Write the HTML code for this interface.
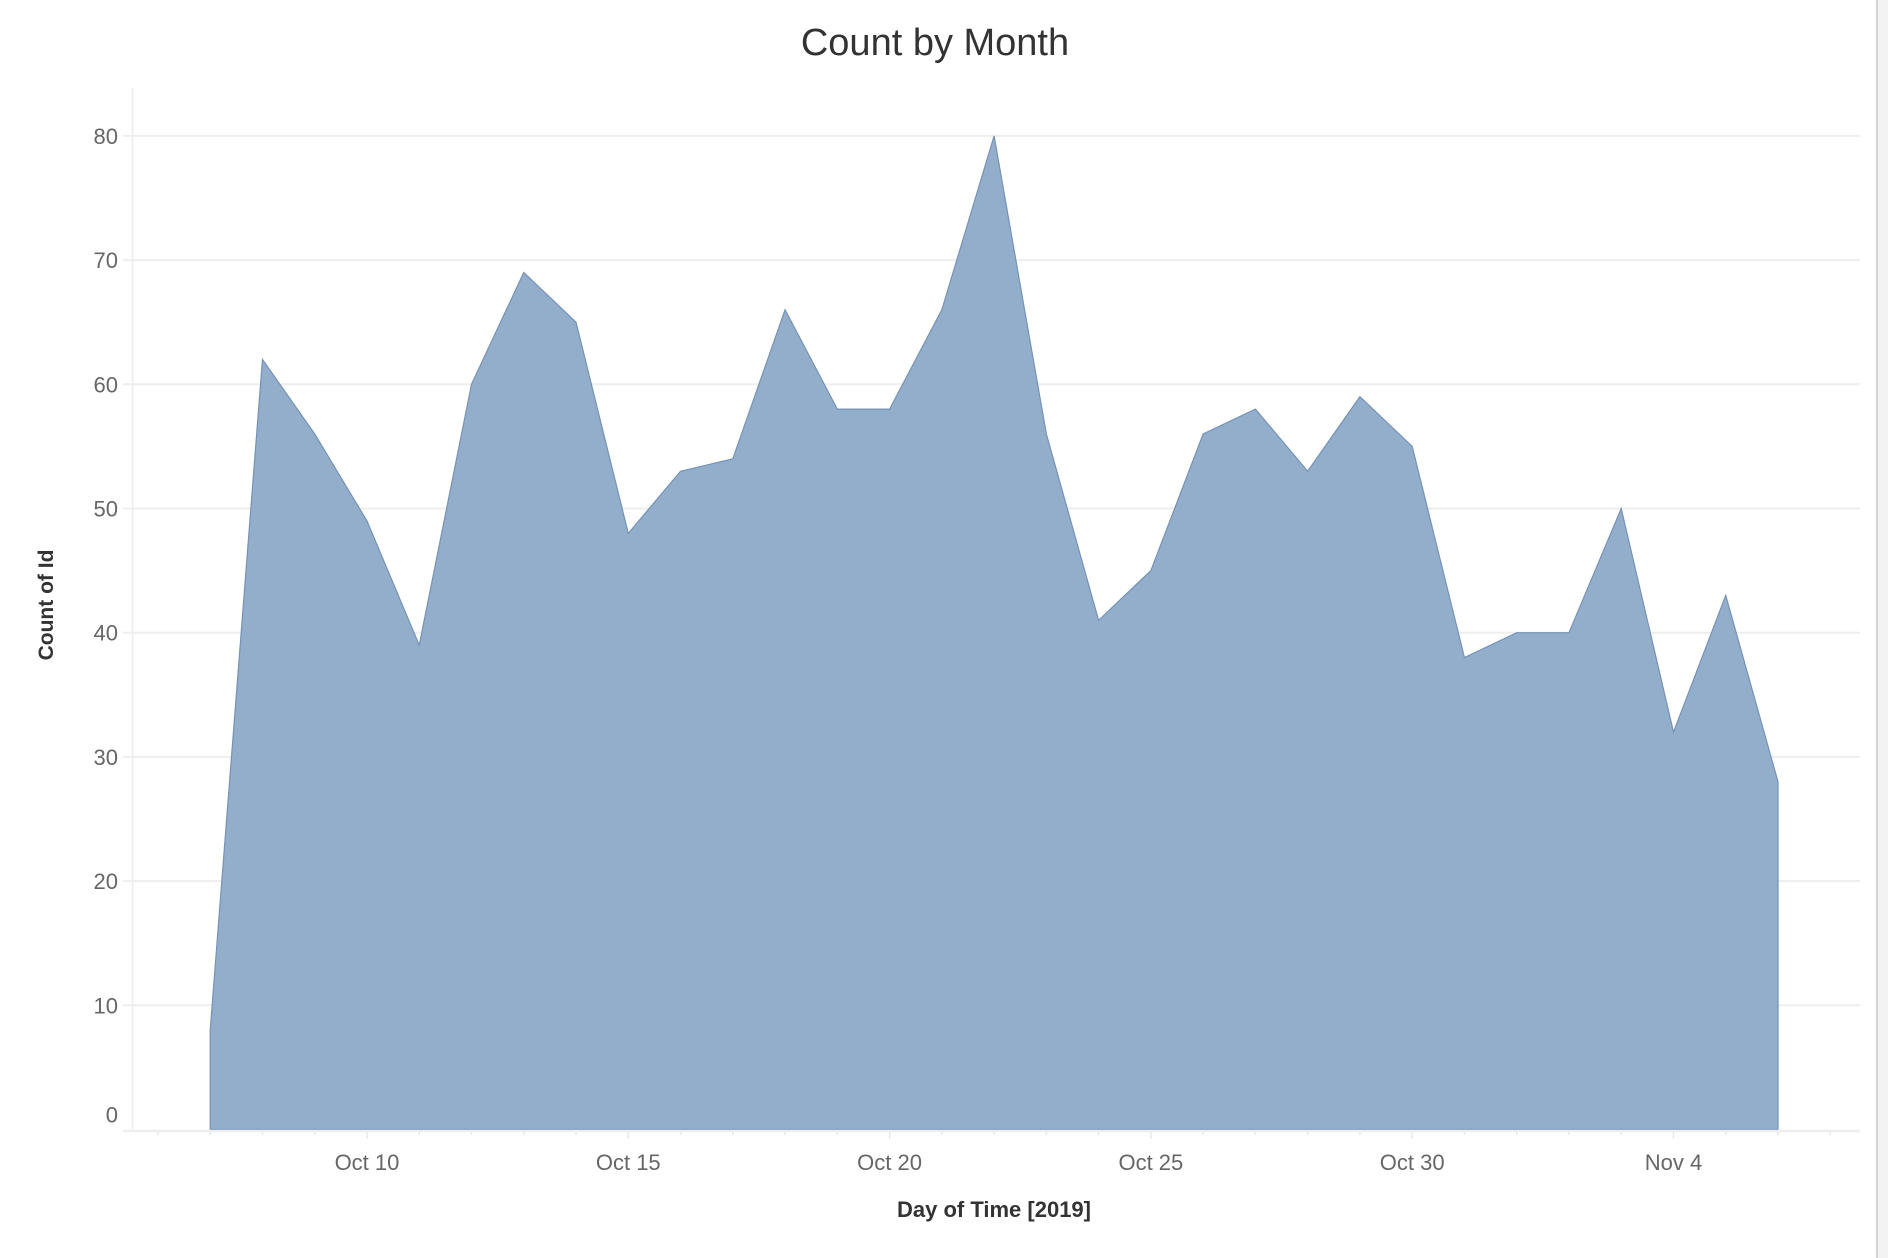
<!DOCTYPE html>
<html><head><meta charset="utf-8"><style>
html,body{margin:0;padding:0;background:#fff;}
svg{display:block;font-family:"Liberation Sans",sans-serif;}
</style></head><body>
<svg id="chart" width="1888" height="1258" viewBox="0 0 1888 1258" xmlns="http://www.w3.org/2000/svg">
<rect x="1876" y="0" width="12" height="1258" fill="#f3f3f3"/>
<rect x="1876" y="0" width="2" height="1258" fill="#d4d4d4"/>
<text x="935" y="55" text-anchor="middle" font-size="38" fill="#333">Count by Month</text>
<text transform="translate(53,605) rotate(-90)" text-anchor="middle" font-size="21" font-weight="bold" fill="#333">Count of Id</text>
<text x="994" y="1217" text-anchor="middle" font-size="22" font-weight="bold" fill="#333">Day of Time [2019]</text>
<g id="grid"></g><g id="area"></g><g id="axes"></g>
</svg>
<script>
const categories = ["Oct 7","Oct 8","Oct 9","Oct 10","Oct 11","Oct 12","Oct 13","Oct 14","Oct 15","Oct 16","Oct 17","Oct 18","Oct 19","Oct 20","Oct 21","Oct 22","Oct 23","Oct 24","Oct 25","Oct 26","Oct 27","Oct 28","Oct 29","Oct 30","Oct 31","Nov 1","Nov 2","Nov 3","Nov 4","Nov 5","Nov 6"];
const counts = [8,62,56,49,39,60,69,65,48,53,54,66,58,58,66,80,56,41,45,56,58,53,59,55,38,40,40,50,32,43,28];
const yTicks = [0,10,20,30,40,50,60,70,80];
const xTickLabels = ["Oct 10","Oct 15","Oct 20","Oct 25","Oct 30","Nov 4"];
const xTickIndex = [3,8,13,18,23,28];

const NS="http://www.w3.org/2000/svg";
const x0=210.2, dx=52.26, y0=1129.5, ky=12.42;
function xScale(i){return x0+i*dx;}
function yScale(v){return y0-v*ky;}
function mk(tag,attrs,parent){const e=document.createElementNS(NS,tag);for(const k in attrs)e.setAttribute(k,attrs[k]);parent.appendChild(e);return e;}
const grid=document.getElementById('grid'),area=document.getElementById('area'),axes=document.getElementById('axes');

mk('line',{x1:132.5,y1:88,x2:132.5,y2:1130,stroke:'#ececec','stroke-width':1.5},grid);
yTicks.forEach(t=>{
  const y=yScale(t);
  if(t>0){const l=mk('line',{x1:123,y1:y,x2:1860,y2:y,stroke:'#eeeeee','stroke-width':2},grid);
  
  }
  const tx=mk('text',{x:118,y:(t===0?y-7:y+8),'text-anchor':'end','font-size':22,fill:'#666'},axes);
  tx.textContent=t;
  
  
});

let d='M'+xScale(0)+','+yScale(0);
counts.forEach((v,i)=>{d+=' L'+xScale(i)+','+yScale(v);});
d+=' L'+xScale(counts.length-1)+','+yScale(0)+' Z';
const p=mk('path',{d:d,fill:'#93aecb',stroke:'#7593b8','stroke-width':1.2},area);



const base=mk('line',{x1:123,y1:1131,x2:1860,y2:1131,stroke:'#eeeeee','stroke-width':2.5},axes);


for(let i=-1;i<=categories.length+1;i++){
  const x=xScale(i);
  if(x<130||x>1858)continue;
  const major=xTickIndex.includes(i);
  const tk=mk('line',{x1:x,y1:1132,x2:x,y2:major?1139:1135,stroke:'#e8e8e8','stroke-width':1.5},axes);
  
  
}
xTickLabels.forEach((lab,j)=>{
  const t=mk('text',{x:xScale(xTickIndex[j]),y:1170,'text-anchor':'middle','font-size':22,fill:'#666'},axes);
  t.textContent=lab;
  
  
});
</script>
</body></html>
